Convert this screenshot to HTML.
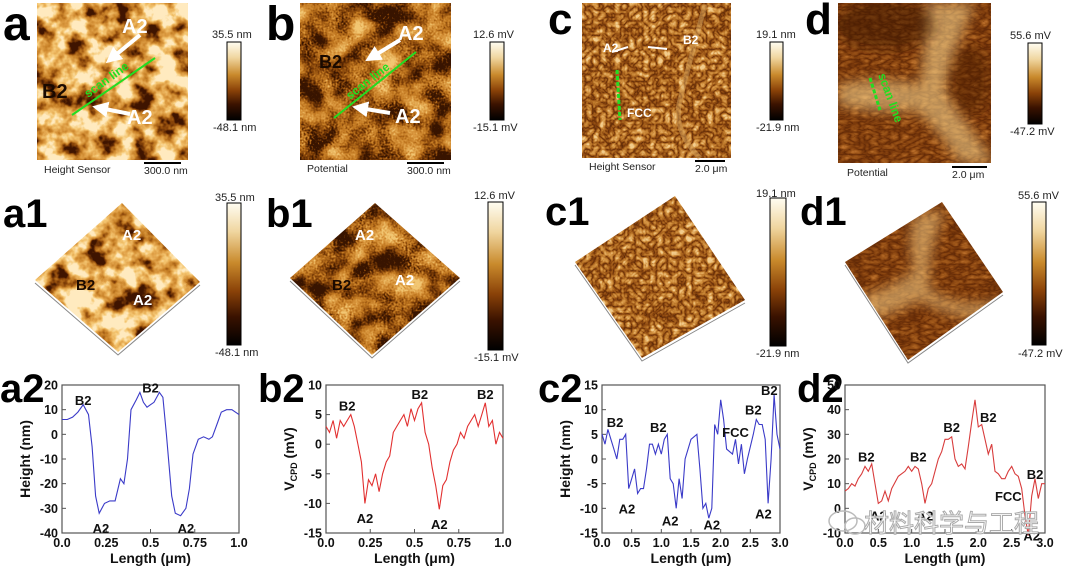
<!DOCTYPE html>
<html><head><meta charset="utf-8">
<style>
html,body{margin:0;padding:0;background:#fff;}
svg{display:block;font-family:"Liberation Sans","Noto Sans CJK SC",sans-serif;}
.pl{font-weight:bold;fill:#000;}
.tk{font-size:12.5px;font-weight:bold;fill:#111;}
.at{font-size:14px;font-weight:bold;fill:#111;}
.an{font-size:13px;font-weight:bold;fill:#111;}
.cb{font-size:11px;fill:#222;}
.cap{font-size:10.5px;fill:#222;}
.wl{font-weight:bold;fill:#fff;}
</style></head>
<body>
<svg id="fig" width="1080" height="572" viewBox="0 0 1080 572">
<defs>
<linearGradient id="cbar" x1="0" y1="0" x2="0" y2="1">
<stop offset="0" stop-color="#fffdf2"/><stop offset="0.2" stop-color="#f0d6a0"/>
<stop offset="0.42" stop-color="#c98a2c"/><stop offset="0.62" stop-color="#8a4208"/>
<stop offset="0.8" stop-color="#3a1200"/><stop offset="1" stop-color="#000"/>
</linearGradient>
<filter id="fA" x="0" y="0" width="100%" height="100%" color-interpolation-filters="sRGB">
<feTurbulence type="fractalNoise" baseFrequency="0.045" numOctaves="4" seed="7"/>
<feColorMatrix type="matrix" values="3 0 0 0 -0.9  3 0 0 0 -0.9  3 0 0 0 -0.9  0 0 0 0 1"/>
<feComponentTransfer><feFuncR type="table" tableValues="0.25 0.55 0.78 0.88 0.96 1"/><feFuncG type="table" tableValues="0.08 0.28 0.5 0.63 0.78 0.92"/><feFuncB type="table" tableValues="0 0.04 0.15 0.28 0.45 0.75"/></feComponentTransfer>
<feComposite in2="SourceGraphic" operator="in"/>
</filter>
<filter id="fB" x="0" y="0" width="100%" height="100%" color-interpolation-filters="sRGB">
<feTurbulence type="fractalNoise" baseFrequency="0.04 0.04" numOctaves="2" seed="11" result="n1"/>
<feTurbulence type="fractalNoise" baseFrequency="0.5" numOctaves="1" seed="3" result="n2"/>
<feComposite in="n1" in2="n2" operator="arithmetic" k2="0.8" k3="0.3" k4="-0.05"/>
<feColorMatrix type="matrix" values="2.6 0 0 0 -0.75  2.6 0 0 0 -0.75  2.6 0 0 0 -0.75  0 0 0 0 1"/>
<feComponentTransfer><feFuncR type="table" tableValues="0.22 0.5 0.75 0.86 0.95"/><feFuncG type="table" tableValues="0.08 0.25 0.46 0.6 0.78"/><feFuncB type="table" tableValues="0 0.03 0.12 0.25 0.45"/></feComponentTransfer>
<feComposite in2="SourceGraphic" operator="in"/>
</filter>
<filter id="fC" x="0" y="0" width="100%" height="100%" color-interpolation-filters="sRGB">
<feTurbulence type="turbulence" baseFrequency="0.14" numOctaves="2" seed="5"/>
<feColorMatrix type="matrix" values="1.5 0 0 0 0.05  1.5 0 0 0 0.05  1.5 0 0 0 0.05  0 0 0 0 1"/>
<feComponentTransfer><feFuncR type="table" tableValues="0.3 0.55 0.72 0.85 0.95"/><feFuncG type="table" tableValues="0.12 0.28 0.45 0.6 0.8"/><feFuncB type="table" tableValues="0.02 0.06 0.15 0.28 0.55"/></feComponentTransfer>
<feComposite in2="SourceGraphic" operator="in"/>
</filter>
<filter id="fD" x="0" y="0" width="100%" height="100%" color-interpolation-filters="sRGB">
<feTurbulence type="turbulence" baseFrequency="0.1 0.2" numOctaves="2" seed="2"/>
<feColorMatrix type="matrix" values="1.2 0 0 0 0.05  1.2 0 0 0 0.05  1.2 0 0 0 0.05  0 0 0 0 1"/>
<feComponentTransfer><feFuncR type="table" tableValues="0.35 0.5 0.62 0.75"/><feFuncG type="table" tableValues="0.14 0.24 0.34 0.45"/><feFuncB type="table" tableValues="0.02 0.05 0.1 0.18"/></feComponentTransfer>
<feComposite in2="SourceGraphic" operator="in"/>
</filter>
<filter id="blur4"><feGaussianBlur stdDeviation="6"/></filter>
<clipPath id="clipD"><rect x="838" y="3" width="153" height="160"/></clipPath>
<clipPath id="clipD1"><polygon points="942,202 1003,292 908,360 845,262"/></clipPath>
<marker id="ah" markerWidth="4" markerHeight="4" refX="2" refY="2" orient="auto"><path d="M0,0 L4,2 L0,4 z" fill="#fff"/></marker>
</defs>

<!-- top row images -->
<g>
<text class="pl" x="3" y="40" font-size="48">a</text>
<rect x="37" y="3" width="151" height="157" fill="#000" filter="url(#fA)"/>
<line x1="72" y1="115" x2="155" y2="58" stroke="#22dd22" stroke-width="2"/>
<text x="88" y="98" font-size="12" font-weight="bold" fill="#22dd22" transform="rotate(-36 88 98)">scan line</text>
<line x1="140" y1="35" x2="112" y2="58" stroke="#fff" stroke-width="4" marker-end="url(#ah)"/>
<line x1="130" y1="114" x2="100" y2="108" stroke="#fff" stroke-width="4" marker-end="url(#ah)"/>
<text class="wl" x="122" y="33" font-size="20">A2</text>
<text class="wl" x="127" y="124" font-size="20">A2</text>
<text x="42" y="98" font-size="20" font-weight="bold" fill="#1a0a00">B2</text>
<text class="cap" x="44" y="173">Height Sensor</text>
<line x1="144" y1="163" x2="181" y2="163" stroke="#000" stroke-width="2"/>
<text class="cap" x="144" y="174">300.0 nm</text>
<rect x="227" y="42" width="14" height="78" fill="url(#cbar)" stroke="#000"/>
<text class="cb" x="212" y="38">35.5 nm</text><text class="cb" x="213" y="131">-48.1 nm</text>
</g>

<g>
<text class="pl" x="266" y="40" font-size="48">b</text>
<rect x="300" y="3" width="151" height="157" fill="#000" filter="url(#fB)"/>
<line x1="334" y1="118" x2="416" y2="52" stroke="#22dd22" stroke-width="2"/>
<text x="350" y="100" font-size="12" font-weight="bold" fill="#22dd22" transform="rotate(-38 350 100)">scan line</text>
<line x1="400" y1="40" x2="372" y2="57" stroke="#fff" stroke-width="4" marker-end="url(#ah)"/>
<line x1="390" y1="113" x2="360" y2="108" stroke="#fff" stroke-width="4" marker-end="url(#ah)"/>
<text class="wl" x="398" y="40" font-size="20">A2</text>
<text class="wl" x="395" y="123" font-size="20">A2</text>
<text x="319" y="68" font-size="18" font-weight="bold" fill="#1a0a00">B2</text>
<text class="cap" x="307" y="172">Potential</text>
<line x1="407" y1="163" x2="444" y2="163" stroke="#000" stroke-width="2"/>
<text class="cap" x="407" y="174">300.0 nm</text>
<rect x="490" y="42" width="14" height="78" fill="url(#cbar)" stroke="#000"/>
<text class="cb" x="473" y="38">12.6 mV</text><text class="cb" x="473" y="131">-15.1 mV</text>
</g>

<g>
<text class="pl" x="548" y="34" font-size="44">c</text>
<rect x="582" y="3" width="149" height="155" fill="#000" filter="url(#fC)"/>
<path d="M705,5 Q690,60 680,100 Q672,130 700,158" fill="none" stroke="#d9a860" stroke-width="5" opacity="0.5"/>
<line x1="617" y1="70" x2="620" y2="120" stroke="#22dd22" stroke-width="3" stroke-dasharray="4 2"/>
<line x1="612" y1="52" x2="628" y2="47" stroke="#fff" stroke-width="2"/>
<line x1="648" y1="47" x2="667" y2="49" stroke="#fff" stroke-width="2"/>
<text class="wl" x="603" y="52" font-size="12">A2</text><text class="wl" x="683" y="44" font-size="12">B2</text>
<text class="wl" x="627" y="117" font-size="12">FCC</text>
<text class="cap" x="589" y="170">Height Sensor</text>
<line x1="695" y1="161" x2="725" y2="161" stroke="#000" stroke-width="2"/>
<text class="cap" x="695" y="172">2.0 μm</text>
<rect x="770" y="42" width="13" height="78" fill="url(#cbar)" stroke="#000"/>
<text class="cb" x="756" y="38">19.1 nm</text><text class="cb" x="756" y="131">-21.9 nm</text>
</g>

<g>
<text class="pl" x="805" y="34" font-size="44">d</text>
<rect x="838" y="3" width="153" height="160" fill="#000" filter="url(#fD)"/>
<g clip-path="url(#clipD)">
<path d="M925,3 L975,3 Q950,60 945,90 Q970,130 995,163 L960,163 Q935,125 915,110 Q880,115 838,105 L838,85 Q880,75 920,85 Q925,50 925,3 Z" fill="#f2cf8a" opacity="0.6" filter="url(#blur4)"/>
<ellipse cx="885" cy="25" rx="50" ry="25" fill="#3a1500" opacity="0.5" filter="url(#blur4)"/>
<ellipse cx="970" cy="80" rx="20" ry="35" fill="#4a1c00" opacity="0.45" filter="url(#blur4)"/>
</g>
<line x1="870" y1="78" x2="880" y2="110" stroke="#22dd22" stroke-width="3" stroke-dasharray="4 2"/>
<text x="878" y="75" font-size="12" font-weight="bold" fill="#22dd22" transform="rotate(70 878 75)">scan line</text>
<text class="cap" x="847" y="176">Potential</text>
<line x1="952" y1="167" x2="987" y2="167" stroke="#000" stroke-width="2"/>
<text class="cap" x="952" y="178">2.0 μm</text>
<rect x="1028" y="43" width="14" height="81" fill="url(#cbar)" stroke="#000"/>
<text class="cb" x="1010" y="39">55.6 mV</text><text class="cb" x="1010" y="135">-47.2 mV</text>
</g>

<!-- middle row 3D -->
<g>
<text class="pl" x="3" y="227" font-size="40">a1</text>
<polygon points="122,203 200,282 118,352 35,280" fill="#000" filter="url(#fA)"/>
<polyline points="35,283 118,355 200,285" fill="none" stroke="#888" stroke-width="1"/>
<text class="wl" x="122" y="240" font-size="15">A2</text><text class="wl" x="133" y="305" font-size="15">A2</text>
<text x="76" y="290" font-size="15" font-weight="bold" fill="#1a0a00">B2</text>
<rect x="227" y="203" width="14" height="142" fill="url(#cbar)" stroke="#000"/>
<text class="cb" x="215" y="201" font-size="10">35.5 nm</text><text class="cb" x="215" y="356" font-size="10">-48.1 nm</text>
</g>
<g>
<text class="pl" x="266" y="227" font-size="40">b1</text>
<polygon points="375,203 460,278 372,355 290,278" fill="#000" filter="url(#fB)"/>
<polyline points="290,281 372,358 460,281" fill="none" stroke="#888" stroke-width="1"/>
<text class="wl" x="355" y="240" font-size="15">A2</text><text class="wl" x="395" y="285" font-size="15">A2</text>
<text x="332" y="290" font-size="15" font-weight="bold" fill="#1a0a00">B2</text>
<rect x="488" y="202" width="15" height="148" fill="url(#cbar)" stroke="#000"/>
<text class="cb" x="474" y="199" font-size="10">12.6 mV</text><text class="cb" x="474" y="361" font-size="10">-15.1 mV</text>
</g>
<g>
<text class="pl" x="545" y="225" font-size="40">c1</text>
<polygon points="675,196 745,300 642,358 575,262" fill="#000" filter="url(#fC)"/>
<polyline points="575,265 642,361 745,303" fill="none" stroke="#888" stroke-width="1"/>
<rect x="770" y="198" width="16" height="148" fill="url(#cbar)" stroke="#000"/>
<text class="cb" x="756" y="197" font-size="10">19.1 nm</text><text class="cb" x="756" y="357" font-size="10">-21.9 nm</text>
</g>
<g>
<text class="pl" x="800" y="225" font-size="40">d1</text>
<polygon points="942,202 1003,292 908,360 845,262" fill="#000" filter="url(#fD)"/>
<g clip-path="url(#clipD1)">
<path d="M915,215 L945,210 Q925,260 930,290 Q960,310 1003,300 L1003,320 Q950,320 920,300 Q880,320 860,320 L850,300 Q890,290 915,270 Q905,240 915,215 Z" fill="#eec47f" opacity="0.6" filter="url(#blur4)"/>
</g>
<polyline points="845,265 908,363 1003,295" fill="none" stroke="#888" stroke-width="1"/>
<rect x="1032" y="202" width="14" height="143" fill="url(#cbar)" stroke="#000"/>
<text class="cb" x="1018" y="199" font-size="10">55.6 mV</text><text class="cb" x="1018" y="357" font-size="10">-47.2 mV</text>
</g>

<g id="charts"></g>

<g>
<ellipse cx="843" cy="521" rx="14" ry="10" fill="none" stroke="#bbb" stroke-width="1.5"/>
<ellipse cx="855" cy="526" rx="10" ry="8" fill="none" stroke="#bbb" stroke-width="1.5"/>
<text x="864" y="532" font-size="25" fill="#fff" stroke="#aaa" stroke-width="1" font-family="'Noto Sans CJK SC',sans-serif">材料科学与工程</text>
</g>
</svg>

<script>
const NS='http://www.w3.org/2000/svg';
// a2 height profile
const a2X=[0,.03,.06,.09,.12,.15,.17,.19,.21,.24,.27,.30,.33,.35,.37,.39,.42,.44,.46,.48,.5,.52,.55,.57,.59,.62,.64,.67,.7,.72,.74,.77,.8,.83,.85,.88,.9,.93,.96,1.0];
const a2Y=[6,6,7,9,12,8,-5,-25,-32,-28,-27,-27,-18,-20,-10,10,14,17,13,11,12,13,17,15,0,-25,-32,-33,-30,-22,-8,-2,-1,-2,-1,5,9,10,10,8];
// b2 potential profile
const b2X=[0,.02,.04,.06,.08,.1,.12,.14,.16,.18,.2,.22,.24,.26,.28,.3,.32,.34,.36,.38,.4,.42,.44,.46,.48,.5,.52,.54,.56,.58,.6,.62,.64,.66,.68,.7,.72,.74,.76,.78,.8,.82,.84,.86,.88,.9,.92,.94,.96,.98,1.0];
const b2Y=[3,2,4,1,4,3,4,5,3,0,-3,-10,-6,-7,-5,-8,-5,-3,-2,2,3,4,5,3,6,4,6,7,2,0,-4,-7,-11,-7,-6,-3,-1,0,2,1,3,4,5,3,5,7,3,4,0,2,1];
// c2 height profile
const c2X=[0,.05,.1,.15,.2,.25,.3,.35,.4,.45,.5,.55,.6,.65,.7,.75,.8,.85,.9,.95,1.0,1.05,1.1,1.15,1.2,1.25,1.3,1.35,1.4,1.5,1.6,1.65,1.7,1.75,1.8,1.85,1.9,1.95,2.0,2.05,2.1,2.2,2.25,2.3,2.35,2.4,2.45,2.55,2.6,2.65,2.7,2.75,2.8,2.85,2.9,2.95,3.0];
const c2Y=[5,3,6,4,2,0,4,4,5,-6,-4,-2,-7,-6,-6,-2,3,3,1,3,1,4,5,-4,-5,-10,-4,-8,0,4,5,-2,-10,-9,-12,-10,7,5,12,8,2,1,4,-1,3,-3,0,5,8,7,7,4,-9,0,13,5,2];
// d2 potential profile
const d2X=[0,.05,.1,.15,.2,.25,.3,.35,.4,.45,.5,.55,.6,.65,.7,.8,.9,.95,1.0,1.05,1.1,1.15,1.2,1.25,1.3,1.4,1.45,1.5,1.55,1.6,1.65,1.7,1.75,1.8,1.85,1.9,1.95,2.0,2.05,2.1,2.15,2.2,2.25,2.3,2.35,2.4,2.45,2.5,2.55,2.6,2.65,2.7,2.75,2.8,2.85,2.9,2.95,3.0];
const d2Y=[7,8,10,9,12,14,17,15,18,10,2,3,7,3,8,13,15,17,15,17,16,10,2,8,10,20,23,28,28,29,20,17,18,16,25,35,44,33,34,28,22,26,15,14,12,12,15,17,14,13,8,-3,-11,5,12,4,10,10];
const a2XTicks=['0.0','0.25','0.5','0.75','1.0'];
const a2YTicks=['-40','-30','-20','-10','0','10','20'];
const b2YTicks=['-15','-10','-5','0','5','10'];
const c2XTicks=['0.0','0.5','1.0','1.5','2.0','2.5','3.0'];
const c2YTicks=['-15','-10','-5','0','5','10','15'];
const d2YTicks=['-10','0','10','20','30','40','50'];
const a2Notes=[['B2',0.12,14],['B2',0.5,19],['A2',0.22,-38],['A2',0.7,-38]];
const b2Notes=[['B2',0.12,6.5],['B2',0.53,8.5],['B2',0.9,8.5],['A2',0.22,-12.5],['A2',0.64,-13.5]];
const c2Notes=[['B2',0.22,7.5],['B2',0.95,6.5],['FCC',2.25,5.5],['B2',2.55,10],['B2',2.82,14],['A2',0.42,-10],['A2',1.15,-12.5],['A2',1.85,-13.3],['A2',2.72,-11]];
const d2Notes=[['B2',0.32,21],['B2',1.1,21],['B2',1.6,33],['B2',2.15,37],['B2',2.85,14],['FCC',2.45,5],['A2',0.5,-3],['A2',1.2,-3],['A2',2.8,-11]];

const charts=[
 {id:'a2',L:62,R:239,T:385,B:533,x0:0,x1:1,y0:-40,y1:20,X:a2X,Y:a2Y,xt:a2XTicks,yt:a2YTicks,col:'#3a3ac8',lab:'a2',lx:0,title:'Height (nm)',notes:a2Notes},
 {id:'b2',L:326,R:503,T:385,B:533,x0:0,x1:1,y0:-15,y1:10,X:b2X,Y:b2Y,xt:a2XTicks,yt:b2YTicks,col:'#e23030',lab:'b2',lx:258,title:'V_CPD (mV)',notes:b2Notes},
 {id:'c2',L:602,R:780,T:385,B:533,x0:0,x1:3,y0:-15,y1:15,X:c2X,Y:c2Y,xt:c2XTicks,yt:c2YTicks,col:'#3a3ac8',lab:'c2',lx:538,title:'Height (nm)',notes:c2Notes},
 {id:'d2',L:845,R:1045,T:385,B:533,x0:0,x1:3,y0:-10,y1:50,X:d2X,Y:d2Y,xt:c2XTicks,yt:d2YTicks,col:'#d83c3c',lab:'d2',lx:797,title:'V_CPD (mV)',notes:d2Notes}
];
const root=document.getElementById('charts');
function mk(tag,attrs,parent){const e=document.createElementNS(NS,tag);for(const k in attrs)e.setAttribute(k,attrs[k]);(parent||root).appendChild(e);return e;}
charts.forEach(c=>{
 const g=mk('g',{});
 
 
 const sx=v=>c.L+(v-c.x0)/(c.x1-c.x0)*(c.R-c.L);
 const sy=v=>c.B-(v-c.y0)/(c.y1-c.y0)*(c.B-c.T);
 const lab=mk('text',{x:c.lx,y:402,'font-size':40,'font-weight':'bold',fill:'#000'},g);lab.textContent=c.lab;
 
 
 const fr=mk('rect',{x:c.L,y:c.T,width:c.R-c.L,height:c.B-c.T,fill:'none',stroke:'#555','stroke-width':1.2},g);
 
 
 c.yt.forEach(t=>{const v=parseFloat(t),y=sy(v);
  mk('line',{x1:c.L,x2:c.L+4,y1:y,y2:y,stroke:'#555'},g);
  const tx=mk('text',{class:'tk',x:c.L-4,y:y+4.5,'text-anchor':'end'},g);tx.textContent=t;
  
  });
 c.xt.forEach(t=>{const v=parseFloat(t),x=sx(v);
  mk('line',{x1:x,x2:x,y1:c.B,y2:c.B-4,stroke:'#555'},g);
  const tx=mk('text',{class:'tk',x:x,y:c.B+14,'text-anchor':'middle'},g);tx.textContent=t;
  
  });
 const xt=mk('text',{class:'at',x:(c.L+c.R)/2,y:c.B+30,'text-anchor':'middle'},g);xt.textContent='Length (μm)';
 
 
 const ty=(c.T+c.B)/2, txx=c.L-32;
 const yt=mk('text',{class:'at',x:txx,y:ty,'text-anchor':'middle',transform:'rotate(-90 '+txx+' '+ty+')','font-size':15},g);
 
 
 if(c.title.startsWith('V_CPD')){yt.textContent='V';const s=mk('tspan',{'font-size':9,dy:3},yt);s.textContent='CPD';const s2=mk('tspan',{dy:-3},yt);s2.textContent=' (mV)';}
 else yt.textContent=c.title;
 const pts=c.X.map((x,i)=>sx(x).toFixed(1)+','+sy(c.Y[i]).toFixed(1)).join(' ');
 const pl=mk('polyline',{points:pts,fill:'none',stroke:c.col,'stroke-width':1.1},g);
 
 
 c.notes.forEach(n=>{const t=mk('text',{class:'an',x:sx(n[1]),y:sy(n[2])+5,'text-anchor':'middle'},g);t.textContent=n[0];
  
  });
});
</script>
</body></html>
